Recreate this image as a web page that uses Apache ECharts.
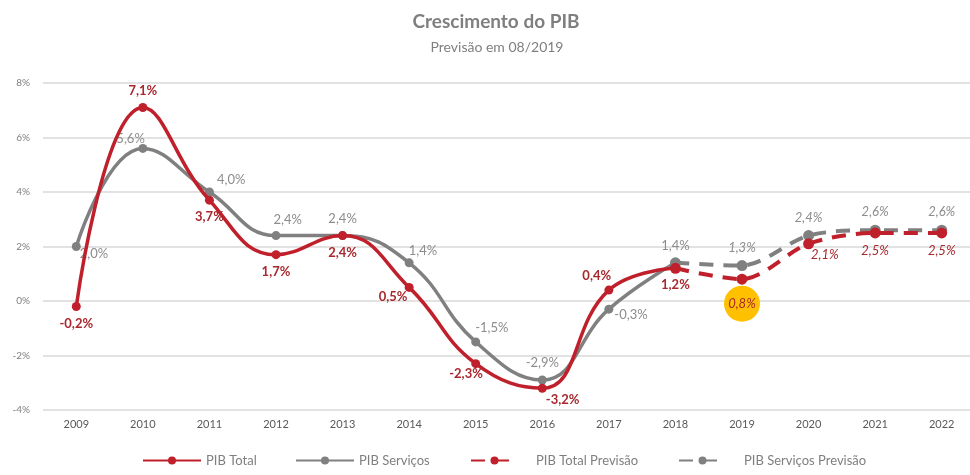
<!DOCTYPE html>
<html>
<head>
<meta charset="utf-8">
<script src="https://cdn.jsdelivr.net/npm/echarts@6/dist/echarts.min.js"></script>
<style>
  html, body { margin: 0; padding: 0; background: #fff; }
  #chart { width: 970px; height: 475px; }
</style>
</head>
<body>
<div id="chart"></div>
<script>
// Years on the horizontal axis
const years = ['2009','2010','2011','2012','2013','2014','2015','2016','2017','2018','2019','2020','2021','2022'];

// Realised growth (%), 2009–2018
const pibTotal    = [-0.2, 7.1, 3.7, 1.7, 2.4, 0.5, -2.3, -3.2, 0.4, 1.2, null, null, null, null];
const pibServicos = [2.0, 5.6, 4.0, 2.4, 2.4, 1.4, -1.5, -2.9, -0.3, 1.4, null, null, null, null];

// Forecast (%), starting from the 2018 value
const pibTotalPrev    = [null, null, null, null, null, null, null, null, null, 1.2, 0.8, 2.1, 2.5, 2.5];
const pibServicosPrev = [null, null, null, null, null, null, null, null, null, 1.4, 1.3, 2.4, 2.6, 2.6];

// Y axis ticks
const yMin = -4, yMax = 8, yStep = 2;

const RED = '#C0202B';
const RED_TEXT = '#A8282D';
const GRAY = '#808080';
const GRAY_TEXT = '#8C8C8C';
const FONT = 'Lato, "Open Sans", sans-serif';

const fmt = v => v.toFixed(1).replace('.', ',') + '%';

// Label placement per point: a named position or an [x, y] offset from the point
const totalLabelPos = ['bottom', 'top', 'bottom', 'bottom', 'bottom', [-26, 7], [-22, 8], [8, 10], [-22, -16], 'bottom'];
const servLabelPos  = [[8, 5], [-22, -12], [12, -14], [2, -18], 'top', [4, -14], [4, -16], 'top', [10, 4], 'top'];

function buildData(values, positions) {
  return values.map((v, i) => (v === null ? null : { value: v, label: { position: positions[i] } }));
}

const totalData = buildData(pibTotal, totalLabelPos);
const servData  = buildData(pibServicos, servLabelPos);

// Forecast labels; the 2018 point is already labelled by the realised series
const totalPrevPos = [null, null, null, null, null, null, null, null, null, 'none', 'bottom', [8, 10], 'bottom', 'bottom'];
const totalPrevData = pibTotalPrev.map((v, i) => {
  if (v === null) return null;
  if (totalPrevPos[i] === 'none') return { value: v, label: { show: false } };
  if (years[i] === '2019') {
    // current-year forecast, highlighted with a yellow disc
    return {
      value: v,
      label: {
        position: 'bottom',
        distance: 1,
        backgroundColor: '#FFC000',
        width: 36, height: 36, lineHeight: 36,
        borderRadius: 18,
        align: 'center',
        padding: 0
      }
    };
  }
  return { value: v, label: { position: totalPrevPos[i] } };
});
const servPrevData = pibServicosPrev.map((v, i) => {
  if (v === null) return null;
  if (i === 9) return { value: v, label: { show: false } };
  return { value: v, label: { position: 'top' } };
});

const legendText = { fontFamily: FONT, fontSize: 13, color: '#7F7F7F' };

const chart = echarts.init(document.getElementById('chart'), null, { renderer: 'canvas' });

chart.setOption({
  animation: false,
  backgroundColor: '#fff',
  title: [
    { text: 'Crescimento do PIB', left: 491, top: 7, textAlign: 'center',
      textStyle: { fontFamily: FONT, fontSize: 19, fontWeight: 'bold', color: '#7F7F7F' } },
    { text: 'Previsão em 08/2019', left: 492, top: 35, textAlign: 'center',
      textStyle: { fontFamily: FONT, fontSize: 14, fontWeight: 'normal', color: '#7F7F7F' } }
  ],
  legend: [
    { left: 137, bottom: 3, itemWidth: 58, itemHeight: 10, textStyle: legendText, data: ['PIB Total'] },
    { left: 290, bottom: 3, itemWidth: 58, itemHeight: 10, textStyle: legendText, data: ['PIB Serviços'] },
    { left: 465, bottom: 3, itemWidth: 47, itemHeight: 10,
      textStyle: Object.assign({ padding: [0, 0, 0, 13] }, legendText), data: ['PIB Total Previsão'] },
    { left: 673, bottom: 3, itemWidth: 47, itemHeight: 10,
      textStyle: Object.assign({ padding: [0, 0, 0, 13] }, legendText), data: ['PIB Serviços Previsão'] }
  ],
  grid: { left: 43, width: 932, top: 83, bottom: 65, containLabel: false, outerBoundsMode: 'none' },
  xAxis: {
    type: 'category',
    data: years,
    boundaryGap: true,
    axisLine: { show: false },
    axisTick: { show: false },
    axisLabel: { fontFamily: FONT, fontSize: 11, color: '#595959', margin: 9 }
  },
  yAxis: {
    type: 'value',
    min: yMin, max: yMax, interval: yStep,
    axisLabel: { formatter: '{value}%', fontFamily: FONT, fontSize: 10, color: '#7F7F7F', margin: 13 },
    axisLine: { show: false },
    axisTick: { show: false },
    splitLine: { lineStyle: { color: '#D9D9D9', width: 1.5 } }
  },
  series: [
    {
      name: 'PIB Total', type: 'line', smooth: 0.45, data: totalData,
      symbol: 'circle', symbolSize: 9, z: 4,
      lineStyle: { color: RED, width: 3.5 }, itemStyle: { color: RED },
      label: { show: true, formatter: p => fmt(p.value), fontFamily: FONT, fontSize: 13, fontWeight: 'bold', color: RED_TEXT, distance: 6 }
    },
    {
      name: 'PIB Serviços', type: 'line', smooth: 0.45, data: servData,
      symbol: 'circle', symbolSize: 9, z: 3,
      lineStyle: { color: GRAY, width: 3.5 }, itemStyle: { color: GRAY },
      label: { show: true, formatter: p => fmt(p.value), fontFamily: FONT, fontSize: 13, color: GRAY_TEXT, distance: 6 }
    },
    {
      name: 'PIB Total Previsão', type: 'line', smooth: 0.3, data: totalPrevData,
      symbol: 'circle', symbolSize: 11, z: 4,
      lineStyle: { color: RED, width: 4, type: [14, 10] }, itemStyle: { color: RED },
      label: { show: true, formatter: p => fmt(p.value), fontFamily: FONT, fontSize: 13, fontStyle: 'italic', color: RED_TEXT, distance: 6 }
    },
    {
      name: 'PIB Serviços Previsão', type: 'line', smooth: 0.3, data: servPrevData,
      symbol: 'circle', symbolSize: 11, z: 3,
      lineStyle: { color: GRAY, width: 4, type: [14, 10] }, itemStyle: { color: GRAY },
      label: { show: true, formatter: p => fmt(p.value), fontFamily: FONT, fontSize: 13, fontStyle: 'italic', color: GRAY_TEXT, distance: 6 }
    }
  ]
});
</script>
</body>
</html>
